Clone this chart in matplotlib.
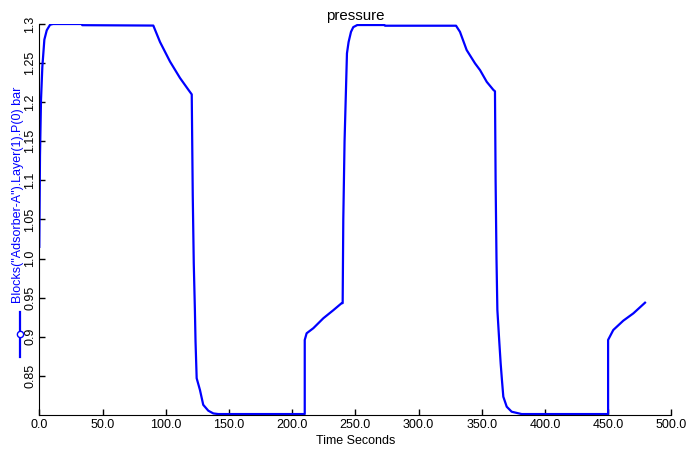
import matplotlib
matplotlib.use('Agg')
import matplotlib.pyplot as plt
from matplotlib.lines import Line2D

plt.rcParams['font.family'] = ['Liberation Sans', 'DejaVu Sans']
plt.rcParams['font.size'] = 9

# time in seconds, pressure in bar
time_s = [0.0, 0.55, 1.35, 2.4, 4.0, 5.9, 8.5, 10.8, 33.5, 34.0,
          90.2, 95.5, 103.4, 111.3, 117.9, 120.6, 121.4, 122.2, 123.1, 123.6,
          124.5, 127.1, 129.7, 133.7, 137.7, 141.6, 210.0, 210.0, 211.5, 216.8,
          224.7, 232.6, 239.2, 240.0, 240.5, 241.5, 242.6, 243.4, 244.7, 246.6,
          248.4, 251.6, 273.0, 273.5, 329.7, 332.8, 338.1, 344.7, 348.7, 354.0,
          359.3, 360.5, 361.0, 361.7, 362.4, 363.9, 365.0, 366.0, 367.1, 369.8,
          373.7, 381.6, 450.0, 450.0, 454.1, 462.0, 470.0, 479.2]
pressure = [1.015, 1.132, 1.203, 1.245, 1.280, 1.292, 1.299, 1.300, 1.300, 1.2985,
            1.298, 1.277, 1.252, 1.231, 1.216, 1.210, 1.081, 0.994, 0.934, 0.894,
            0.847, 0.832, 0.813, 0.8055, 0.802, 0.8012, 0.8012, 0.896, 0.9045, 0.911,
            0.9237, 0.934, 0.943, 0.943, 1.05, 1.15, 1.215, 1.2625, 1.277, 1.290,
            1.296, 1.2987, 1.2987, 1.2978, 1.2978, 1.290, 1.2667, 1.2497, 1.241, 1.226,
            1.2156, 1.214, 1.10, 1.00, 0.9343, 0.894, 0.866, 0.845, 0.8234, 0.8106,
            0.8042, 0.8012, 0.8012, 0.896, 0.9087, 0.9206, 0.930, 0.9436]

xticks = [0, 50, 100, 150, 200, 250, 300, 350, 400, 450, 500]
yticks = [0.85, 0.9, 0.95, 1.0, 1.05, 1.1, 1.15, 1.2, 1.25, 1.3]
ylabels = ['0.85', '0.9', '0.95', '1.0', '1.05', '1.1', '1.15', '1.2', '1.25', '1.3']

fig = plt.figure(figsize=(6.87, 4.55), dpi=100)
ax = fig.add_axes([39.3 / 687, 40 / 455, 632 / 687, 391 / 455])

ax.plot(time_s, pressure, color='#0000ff', lw=1.6)

ax.set_xlim(0, 500)
ax.set_ylim(0.8, 1.3)
ax.set_xticks(xticks)
ax.set_xticklabels(['%.1f' % v for v in xticks])
ax.set_yticks(yticks)
ax.set_yticklabels(ylabels, rotation=90, va='center')
ax.tick_params(direction='in', length=4, width=1, pad=3)
ax.tick_params(axis='y', pad=2)
for s in ['top', 'right']:
    ax.spines[s].set_visible(False)

ax.set_title('pressure', pad=3)
ax.set_xlabel('Time Seconds', labelpad=3)
ax.set_ylabel('Blocks("Adsorber-A").Layer(1).P(0) bar', color='#0000ff')
ax.yaxis.set_label_coords((24 - 39.3) / 632, (415 - 195) / 391)

# legend glyph in front of the y label
glyph = Line2D([20, 20], [455 - 312, 455 - 357], color='#0000ff', lw=1.6,
               transform=None)
fig.add_artist(glyph)
dot = Line2D([20], [455 - 334], marker='o', markersize=4.5, markerfacecolor='white',
             markeredgecolor='#0000ff', markeredgewidth=1, transform=None)
fig.add_artist(dot)

fig.savefig('out.png', dpi=100)
